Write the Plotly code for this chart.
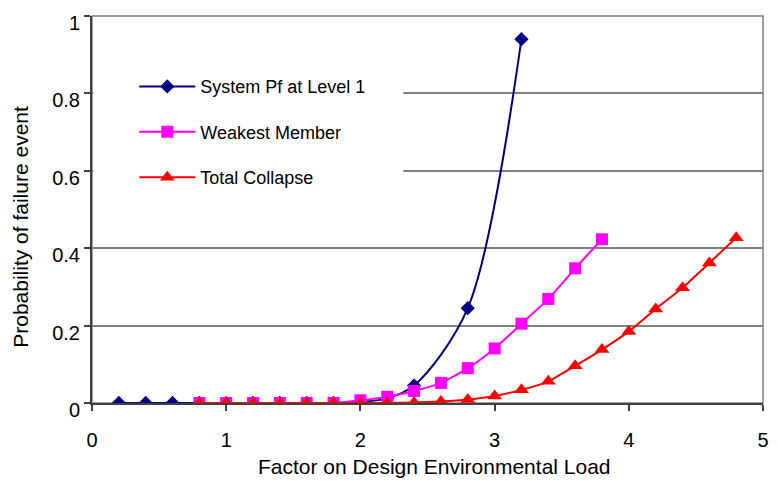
import plotly.graph_objects as go

# Data
sys_x = [0.2, 0.4, 0.6, 0.8, 1.0, 1.2, 1.4, 1.6, 1.8, 2.0, 2.2, 2.4, 2.8, 3.2]
sys_y = [0, 0, 0, 0, 0, 0, 0, 0, 0, 0.003, 0.012, 0.045, 0.245, 0.94]

weak_x = [0.8, 1.0, 1.2, 1.4, 1.6, 1.8, 2.0, 2.2, 2.4, 2.6, 2.8, 3.0, 3.2, 3.4, 3.6, 3.8]
weak_y = [0, 0, 0, 0, 0, 0, 0.007, 0.016, 0.031, 0.052, 0.09, 0.141, 0.205, 0.269, 0.348, 0.423]

tot_x = [0.8, 1.0, 1.2, 1.4, 1.6, 1.8, 2.0, 2.2, 2.4, 2.6, 2.8, 3.0, 3.2, 3.4, 3.6, 3.8, 4.0, 4.2, 4.4, 4.6, 4.8]
tot_y = [0, 0, 0, 0, 0, 0, 0, 0, 0.001, 0.004, 0.009, 0.018, 0.034, 0.056, 0.096, 0.138, 0.185, 0.243, 0.298, 0.362, 0.427]

names = ["System Pf at Level 1", "Weakest Member", "Total Collapse"]
y_ticks = [0, 0.2, 0.4, 0.6, 0.8, 1]
y_tick_text = ["0", "0.2", "0.4", "0.6", "0.8", "1"]
x_ticks = [0, 1, 2, 3, 4, 5]
x_title = "Factor on Design Environmental Load"
y_title = "Probability of failure event"

FONT = "Liberation Sans, Arial, sans-serif"

fig = go.Figure()
fig.add_trace(go.Scatter(
    x=sys_x, y=sys_y, name=names[0], mode="lines+markers", legendgroup="a",
    line=dict(color="#000080", width=2, shape="spline", smoothing=0.9),
    marker=dict(symbol="diamond", size=11, color="#000080")))
fig.add_trace(go.Scatter(
    x=weak_x, y=weak_y, name=names[1], mode="lines+markers", legendgroup="b",
    line=dict(color="#FF00FF", width=2, shape="spline", smoothing=0.6),
    marker=dict(symbol="square", size=12, color="#FF00FF")))
fig.add_trace(go.Scatter(
    x=tot_x, y=tot_y, name=names[2], mode="lines+markers", legendgroup="c",
    line=dict(color="#FF0000", width=2, shape="spline", smoothing=0.6),
    marker=dict(symbol="triangle-up", size=13, color="#FF0000")))

# white legend area covering gridlines
fig.add_shape(type="rect", xref="x", yref="y", x0=0.01, x1=2.32, y0=0.5, y1=0.9,
              fillcolor="white", line=dict(width=0), layer="between")
# plot area border
fig.add_shape(type="rect", xref="paper", yref="paper", x0=0, x1=1, y0=0, y1=1,
              line=dict(color="#808080", width=1.5), layer="below")

# axis titles
fig.add_annotation(text=x_title, xref="paper", yref="paper", x=0.51, y=-0.165,
                   xanchor="center", yanchor="middle", showarrow=False,
                   font=dict(size=21, family=FONT, color="black"))
fig.add_annotation(text=y_title, xref="paper", yref="paper", x=-0.106, y=0.455,
                   xanchor="center", yanchor="middle", showarrow=False, textangle=-90,
                   font=dict(size=21, family=FONT, color="black"))

fig.update_layout(
    width=778, height=481,
    margin=dict(l=92, r=9, t=16, b=78),
    paper_bgcolor="white", plot_bgcolor="white",
    font=dict(family=FONT, color="black"),
    showlegend=True,
    legend=dict(x=0.063, y=0.865, xanchor="left", yanchor="top",
                bgcolor="rgba(0,0,0,0)", font=dict(size=18, family=FONT),
                itemwidth=56, tracegroupgap=19, traceorder="grouped"),
    xaxis=dict(range=[0, 5], tickvals=x_ticks, showgrid=False, zeroline=False,
               showline=True, linecolor="#404040", linewidth=2,
               ticks="outside", ticklen=6, tickcolor="#404040", tickwidth=1.5,
               tickfont=dict(size=20), ticklabelstandoff=12),
    yaxis=dict(range=[0, 1], tickvals=y_ticks, ticktext=y_tick_text,
               showgrid=True, gridcolor="#808080", gridwidth=1.5, zeroline=False,
               showline=True, linecolor="#404040", linewidth=2,
               ticks="outside", ticklen=6, tickcolor="#404040", tickwidth=1.5,
               tickfont=dict(size=20), ticklabelshift=7),
)

fig.write_html("out.html")
